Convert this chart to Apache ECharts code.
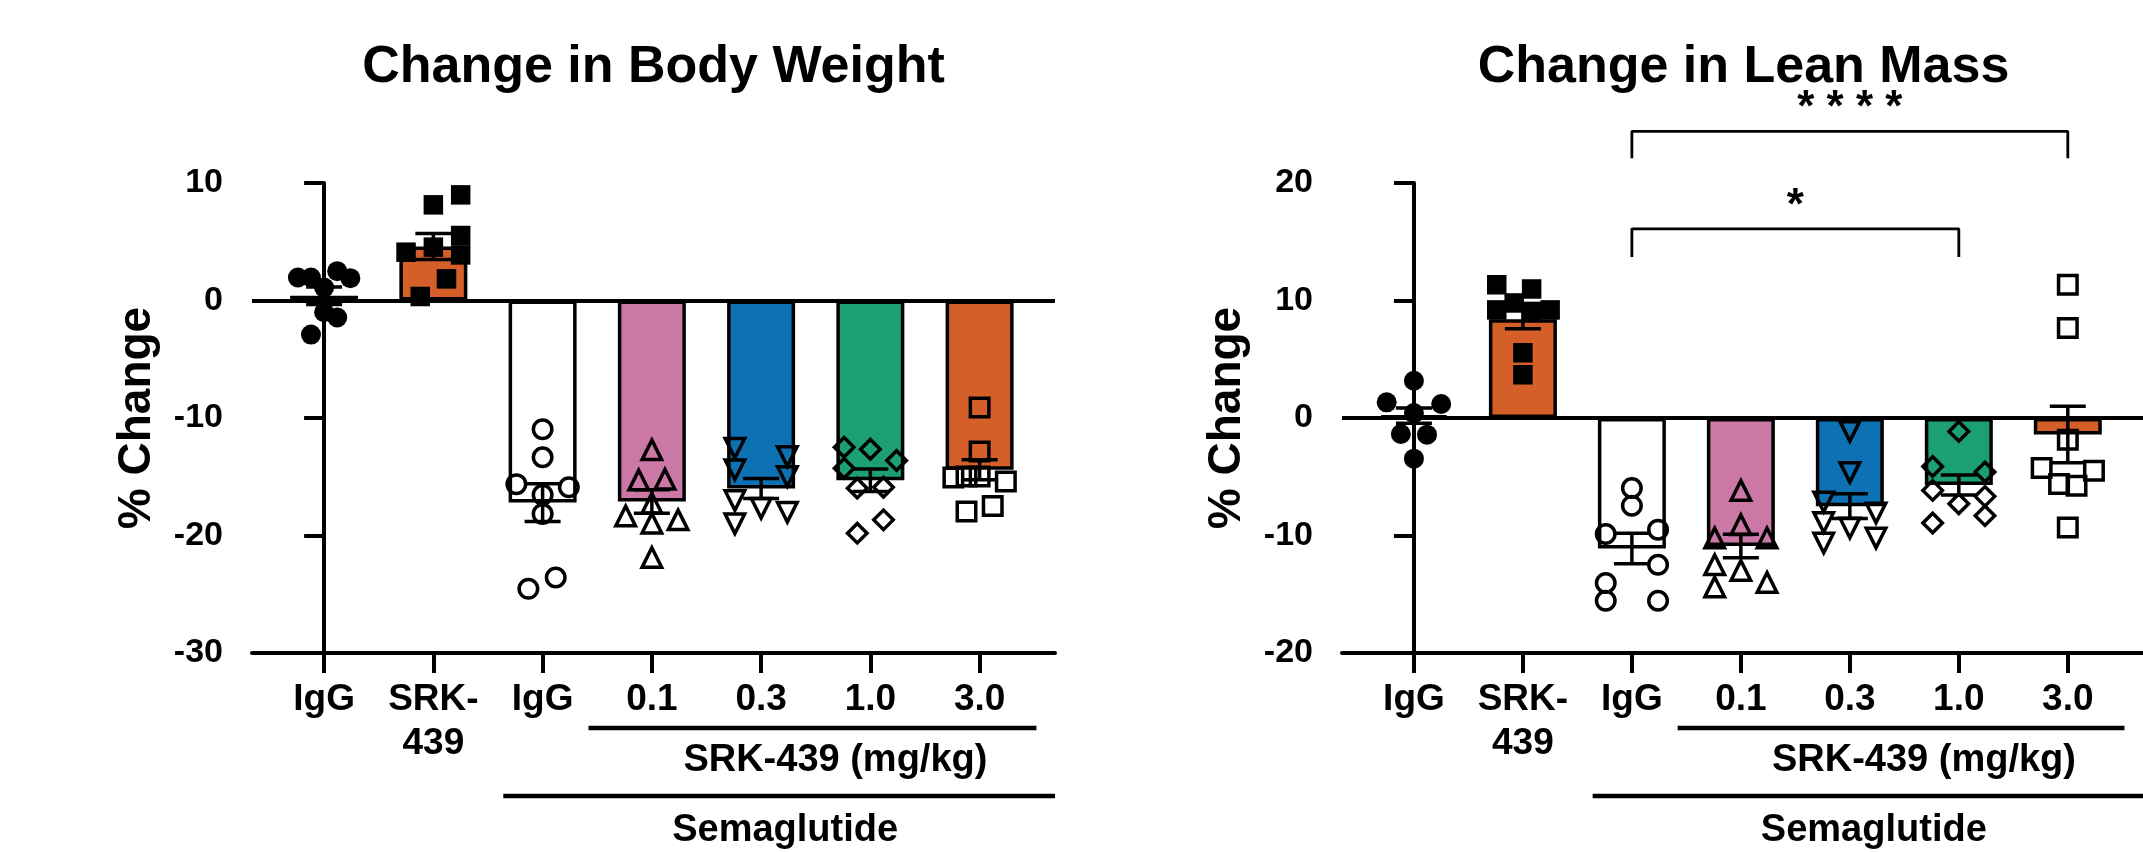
<!DOCTYPE html>
<html>
<head>
<meta charset="utf-8">
<script src="https://cdn.jsdelivr.net/npm/echarts@6/dist/echarts.min.js"></script>
<style>
html, body { margin: 0; padding: 0; background: #fff; }
#chart { width: 2143px; height: 852px; }
</style>
</head>
<body>
<div id="chart"></div>
<script>
var dom = document.getElementById('chart');
var myChart = echarts.init(dom);
var FONT = '"Liberation Sans", Arial, sans-serif';

// groups along the x axis
var categories = ['IgG', 'SRK-\n439', 'IgG', '0.1', '0.3', '1.0', '3.0'];
var barColors = ['#ffffff', '#D45F28', '#ffffff', '#CC78A7', '#0D71B3', '#1C9F73', '#D45F28'];

// Change in Body Weight
var bwMean = [0.4, 4.6, -17.2, -17.1, -16.0, -15.3, -14.4];
var bwSem = [0.75, 1.1, 1.6, 1.0, 0.85, 0.95, 0.85];
var bwPoints = [
    [1.96, 1.96, 1.1, 2.5, 1.9, -1.0, -1.45, -2.9],
    [8.14, 8.99, 5.53, 3.88, 4.11, 4.54, 1.84, 0.34],
    [-10.95, -13.34, -15.63, -15.89, -16.54, -18.16, -24.54, -23.57],
    [-12.71, -15.27, -15.21, -17.25, -18.33, -18.95, -18.67, -21.87],
    [-12.57, -14.41, -13.28, -14.98, -17.02, -17.68, -18.02, -19.01],
    [-12.49, -12.66, -13.62, -14.27, -15.97, -15.89, -19.8, -18.67],
    [-9.11, -12.85, -15.06, -14.98, -14.98, -15.4, -17.96, -17.48]
];
var bwJitter = [
    [-0.24, -0.12, 0, 0.12, 0.24, 0, 0.12, -0.12],
    [0, 0.25, 0.25, 0.25, -0.25, 0, 0.12, -0.12],
    [0, 0, -0.24, 0.24, 0, 0, -0.13, 0.12],
    [0, -0.12, 0.12, 0, -0.24, 0, 0.24, 0],
    [-0.24, -0.24, 0.24, 0.24, -0.24, 0, 0.24, -0.24],
    [-0.24, 0, 0.24, -0.24, -0.12, 0.12, -0.12, 0.12],
    [0, 0, -0.24, -0.12, 0, 0.24, -0.12, 0.12]
];

// Change in Lean Mass
var lmMean = [0.2, 8.4, -11.1, -10.9, -7.5, -5.7, -1.4];
var lmSem = [0.65, 0.8, 1.3, 1.0, 1.05, 0.85, 2.4];
var lmPoints = [
    [3.17, 1.33, 1.19, 0.42, -1.36, -1.42, -3.46],
    [11.34, 10.98, 9.79, 9.2, 9.2, 9.07, 5.55, 3.68],
    [-5.96, -7.46, -9.87, -9.5, -12.49, -14.04, -15.55, -15.55],
    [-6.16, -9.08, -10.21, -10.21, -12.49, -12.97, -14.38, -13.99],
    [-1.14, -4.63, -7.15, -8.89, -9.36, -8.09, -10.64, -10.21],
    [-1.14, -4.12, -4.6, -6.16, -6.67, -7.29, -8.31, -8.94],
    [11.34, 7.66, -1.85, -4.26, -4.49, -5.62, -5.76, -9.31]
];
var lmJitter = [
    [0, -0.25, 0.25, 0, -0.12, 0.12, 0],
    [-0.24, 0.08, -0.08, -0.24, 0.25, 0.08, 0, 0],
    [0, 0, -0.24, 0.24, 0.24, -0.24, -0.24, 0.24],
    [0, 0, -0.24, 0.24, -0.24, 0, -0.24, 0.24],
    [0, 0, -0.24, -0.24, 0, 0.24, -0.24, 0.24],
    [0, -0.24, 0.24, -0.24, 0.24, 0, 0.24, -0.24],
    [0, 0, 0, -0.24, 0.24, -0.08, 0.08, 0]
];

// significance brackets on the lean mass panel: [from, to, legBottom, top, label]
var lmBrackets = [
    [2, 6, 22.1, 24.4, '* * * *'],
    [2, 5, 13.7, 16.1, '*']
];

var markers = [
    { symbol: 'circle', size: 20, filled: true },
    { symbol: 'rect', size: 19.5, filled: true },
    { symbol: 'circle', size: 18.5 },
    { symbol: 'triangle', size: 19.5 },
    { symbol: 'triangle', size: 19.5, rotate: 180 },
    { symbol: 'diamond', size: 19.5 },
    { symbol: 'rect', size: 18.5 }
];

var panels = [
    { title: 'Change in Body Weight', mean: bwMean, sem: bwSem, points: bwPoints, jitter: bwJitter,
      min: -30, max: 10, left: 252 },
    { title: 'Change in Lean Mass', mean: lmMean, sem: lmSem, points: lmPoints, jitter: lmJitter,
      min: -20, max: 20, left: 1342 }
];
var gridTop = 183, gridHeight = 470, gridWidth = 803;
var xMin = -0.66, xMax = 6.69;
var catIdx = [0, 1, 2, 3, 4, 5, 6];
var LW = 4;

var grids = [], xAxes = [], yAxes = [], series = [];

panels.forEach(function (p, g) {
    grids.push({ left: p.left, top: gridTop, width: gridWidth, height: gridHeight });
    xAxes.push({
        type: 'value', gridIndex: g, min: xMin, max: xMax, position: 'bottom',
        axisLine: { onZero: false, lineStyle: { color: '#000', width: LW } },
        axisTick: { show: true, customValues: catIdx, length: 20, lineStyle: { color: '#000', width: LW } },
        axisLabel: {
            customValues: catIdx,
            formatter: function (v) { return categories[Math.round(v)]; },
            color: '#000', fontSize: 37, fontWeight: 'bold', fontFamily: FONT,
            margin: 25, lineHeight: 44
        },
        splitLine: { show: false }
    });
    yAxes.push({
        type: 'value', gridIndex: g, min: p.min, max: p.max, interval: 10,
        name: '% Change', nameLocation: 'middle', nameGap: 92, nameRotate: 90,
        nameTextStyle: { color: '#000', fontSize: 46, fontWeight: 'bold', fontFamily: FONT },
        axisLine: { show: true, lineStyle: { color: '#000', width: LW } },
        axisTick: { show: true, length: 20, lineStyle: { color: '#000', width: LW } },
        axisLabel: { color: '#000', fontSize: 34, fontWeight: 'bold', fontFamily: FONT, margin: 29 },
        splitLine: { show: false }
    });

    series.push({
        type: 'bar', xAxisIndex: g, yAxisIndex: g, barWidth: 68, z: 2,
        data: p.mean.map(function (m, i) {
            return { value: [i, m], itemStyle: { color: barColors[i], borderColor: '#000', borderWidth: 3.5 } };
        }),
        markLine: {
            silent: true, symbol: ['none', 'none'], label: { show: false },
            lineStyle: { color: '#000', width: LW, type: 'solid' },
            data: [{ yAxis: 0 }]
        }
    });

    series.push({
        type: 'custom', xAxisIndex: g, yAxisIndex: g, z: 3,
        data: p.mean.map(function (m, i) { return [i, m - p.sem[i], m + p.sem[i]]; }),
        renderItem: function (params, api) {
            var lo = api.coord([api.value(0), api.value(1)]);
            var hi = api.coord([api.value(0), api.value(2)]);
            var half = 18;
            var st = { stroke: '#000', lineWidth: 3.5 };
            return {
                type: 'group', children: [
                    { type: 'line', shape: { x1: lo[0], y1: lo[1], x2: hi[0], y2: hi[1] }, style: st },
                    { type: 'line', shape: { x1: lo[0] - half, y1: lo[1], x2: lo[0] + half, y2: lo[1] }, style: st },
                    { type: 'line', shape: { x1: hi[0] - half, y1: hi[1], x2: hi[0] + half, y2: hi[1] }, style: st }
                ]
            };
        }
    });

    p.points.forEach(function (vals, i) {
        var mk = markers[i];
        series.push({
            type: 'scatter', xAxisIndex: g, yAxisIndex: g, z: 4,
            symbol: mk.symbol, symbolSize: mk.size, symbolRotate: mk.rotate || 0,
            itemStyle: mk.filled
                ? { color: '#000', borderWidth: 0, opacity: 1 }
                : { color: 'rgba(0,0,0,0)', borderColor: '#000', borderWidth: 3.5, opacity: 1 },
            data: vals.map(function (v, k) { return [i + p.jitter[i][k], v]; })
        });
    });
});

lmBrackets.forEach(function (b) {
    series.push({
        type: 'line', xAxisIndex: 1, yAxisIndex: 1, clip: false, symbol: 'none', z: 5,
        lineStyle: { color: '#000', width: 2.8 },
        data: [[b[0], b[2]], [b[0], b[3]], [b[1], b[3]], [b[1], b[2]]]
    });
});

option = {
    animation: false,
    backgroundColor: '#fff',
    grid: grids,
    xAxis: xAxes,
    yAxis: yAxes,
    series: series
};
myChart.setOption(option, true);

// titles, group labels under the axis and significance stars
var graphics = [];
function txt(text, x, y, size) {
    graphics.push({
        type: 'text', z: 10,
        style: { text: text, x: x, y: y, textAlign: 'center', textVerticalAlign: 'middle',
                 fill: '#000', font: 'bold ' + size + 'px ' + FONT }
    });
}
function hline(x1, x2, y) {
    graphics.push({
        type: 'line', z: 10,
        shape: { x1: x1, y1: y, x2: x2, y2: y },
        style: { stroke: '#000', lineWidth: 4.5 }
    });
}
panels.forEach(function (p, g) {
    var pt = function (x, y) { return myChart.convertToPixel({ gridIndex: g }, [x, y]); };
    var bottom = pt(0, p.min)[1];
    txt(p.title, p.left + gridWidth / 2, 68, 52);
    hline(pt(2.42, 0)[0], pt(6.52, 0)[0], bottom + 75);
    txt('SRK-439 (mg/kg)', pt(4.68, 0)[0], bottom + 108, 38);
    hline(pt(1.64, 0)[0], pt(xMax, 0)[0], bottom + 143);
    txt('Semaglutide', pt(4.22, 0)[0], bottom + 178, 38);
});
lmBrackets.forEach(function (b) {
    var c = myChart.convertToPixel({ gridIndex: 1 }, [(b[0] + b[1]) / 2, b[3]]);
    txt(b[4], c[0], c[1] - 22, 44);
});
myChart.setOption({ graphic: graphics });
</script>
</body>
</html>
